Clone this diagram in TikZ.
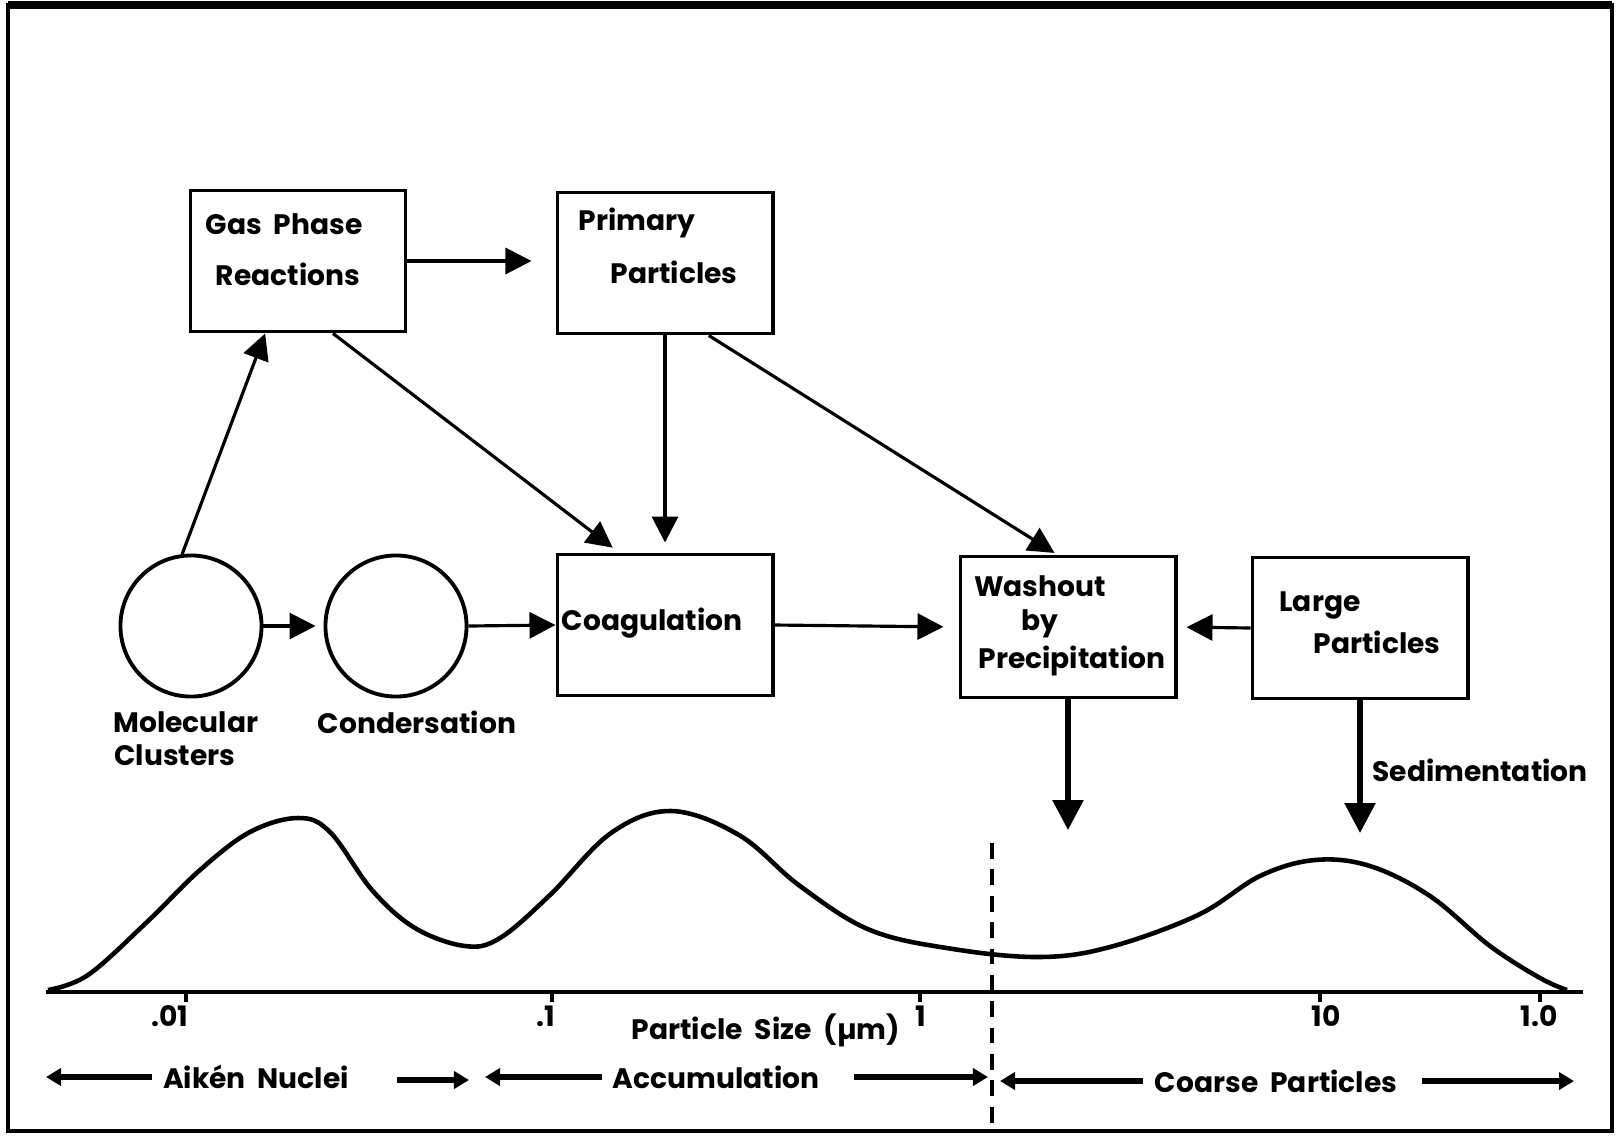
\documentclass[tikz,border=0pt]{standalone}
\usepackage{fontspec}
\setsansfont{Poppins}
\usetikzlibrary{arrows.meta,calc}
\tikzset{
  box/.style={draw,line width=1.1pt,minimum width=2.15cm,minimum height=1.41cm,inner sep=0pt},
  blob/.style={draw,circle,line width=1.1pt,minimum size=1.41cm,inner sep=0pt},
  lbl/.style={font=\sffamily\bfseries\fontsize{8}{9}\selectfont,inner sep=0pt},
  arr/.style={line width=0.9pt,-{Triangle[length=2.6mm,width=2.6mm]}},
  big/.style={line width=1.6pt,-{Triangle[length=3mm,width=3mm]}},
  small/.style={line width=1.5pt,-{Triangle[length=1.5mm,width=1.7mm]}},
}
\begin{document}
\begin{tikzpicture}[x=0.01cm,y=-0.01cm]
\useasboundingbox (0,0) rectangle (1617,1135);
\draw[line width=1pt] (8,5) rectangle (1612,1131);
\draw[line width=2.5pt] (8,5) -- (1612,5);
% boxes and drops
\node[box] (gas) at (298,261) {};
\node[box] (prim) at (665,263) {};
\node[box] (coag) at (665,625) {};
\node[box] (wash) at (1068,627) {};
\node[box] (large) at (1360,628) {};
\node[blob] (mol) at (191,626) {};
\node[blob] (cond) at (396,626) {};
\node[lbl] (tgas1) at (284,224) {Gas\ \ Phase};
\node[lbl] (tgas2) at (288,274) {Reactions};
\node[lbl] (tprim1) at (637,223) {Primary};
\node[lbl] (tprim2) at (674,272) {Particles};
\node[lbl] (tcoag) at (652,623) {Coagulation};
\node[lbl] (twash1) at (1040,586) {Washout};
\node[lbl] (twash2) at (1040,624) {by};
\node[lbl] (twash3) at (1072,661) {Precipitation};
\node[lbl] (tlarge1) at (1320,605) {Large};
\node[lbl] (tlarge2) at (1377,642) {Particles};
\node[lbl] (tsed) at (1480,770) {Sedimentation};
\node[lbl] (tmol1) at (186,722) {Molecular};
\node[lbl] (tmol2) at (175,755) {Clusters};
\node[lbl] (tcond) at (417,722) {Condersation};
% connectors
\draw[arr,shorten >=2.4mm] (gas.east) -- (gas.east -| prim.west);
\draw[arr] (mol.97) -- ($(gas.south west)!0.35!(gas.south east)$);
\draw[arr,shorten >=0.8mm] ($(gas.south west)!0.66!(gas.south east)$) -- ($(coag.north west)!0.29!(coag.north east)$);
\draw[arr,shorten >=1mm] (prim.south) -- (coag.north);
\draw[arr,shorten >=0.3mm] ($(prim.south west)!0.70!(prim.south east)$) -- ($(wash.north west)!0.45!(wash.north east)$);
\draw[arr,shorten >=0.8mm] (mol.east) -- (cond.west);
\draw[arr] (cond.east) -- (coag.west);
\draw[arr,shorten >=1.5mm] (coag.east) -- (wash.west);
\draw[arr,shorten >=0.9mm] (large.west) -- (wash.east);
\coordinate (washend) at (1068,830);
\coordinate (largeend) at (1360,833);
\draw[big] (wash.south) -- (washend);
\draw[big] (large.south) -- (largeend);
% size distribution
\coordinate (ax0) at (46,992);
\coordinate (ax1) at (1583,992);
\draw[line width=1.4pt] (ax0) -- (ax1);
\foreach \x/\lx/\t in {186/170/.01,552/546/.1,920/921/1,1320/1326/10,1540/1539/1.0}{
  \draw[line width=1pt] (\x,992) -- (\x,1002);
  \node[lbl] (tick\x) at (\lx,1016) {\t};
}
\draw[line width=1.3pt] plot[smooth,tension=0.6] coordinates {(48,990) (88,975) (147,922) (200,870) (250,832) (298,818) (330,832) (372,890) (415,928) (465,946) (500,938) (550,895) (611,833) (671,811) (739,835) (800,886) (870,930) (953,949) (1040,957) (1110,947) (1198,915) (1260,876) (1315,860) (1370,866) (1430,896) (1490,946) (1540,978) (1567,990)};
\node[lbl] (tsize) at (766,1030) {Particle\ \ Size\ \ (µm)};
\draw[line width=1.2pt,dash pattern=on 4.5pt off 3pt] (992,843) -- (992,1131);
% ranges
\node[lbl] (taik) at (256,1077) {Aikén\ \ Nuclei};
\node[lbl] (tacc) at (716,1077) {Accumulation};
\node[lbl] (tcoarse) at (1276,1081) {Coarse\ \ Particles};
\coordinate (aikL) at (46,1077);
\coordinate (aikR0) at (397,1080);
\coordinate (aikR) at (469,1080);
\coordinate (accL) at (485,1077);
\coordinate (accR) at (988,1077);
\coordinate (coaL) at (1000,1081);
\coordinate (coaR) at (1574,1081);
\draw[small,shorten <=1mm] (taik.west) -- (aikL);
\draw[small] (aikR0) -- (aikR);
\draw[small,shorten <=1mm] (tacc.west) -- (accL);
\draw[small,shorten <=3.4mm] (tacc.east) -- (accR);
\draw[small,shorten <=1.1mm] (tcoarse.west) -- (coaL);
\draw[small,shorten <=2.4mm] (tcoarse.east) -- (coaR);
\end{tikzpicture}
\end{document}
